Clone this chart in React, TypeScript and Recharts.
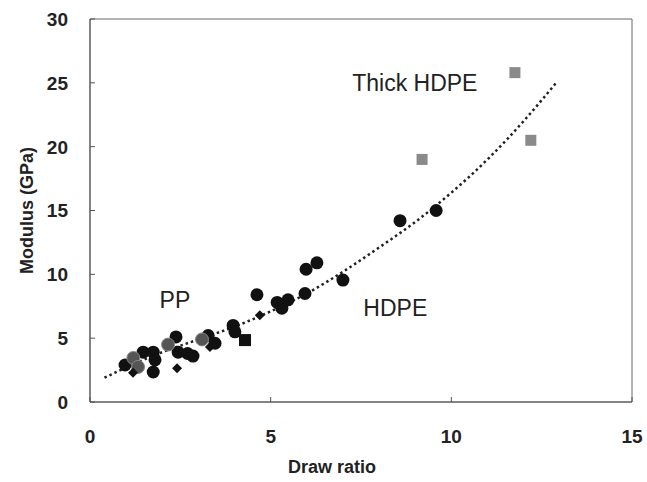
import React from 'react';
import {
  ComposedChart, Scatter, Line, XAxis, YAxis, ReferenceArea, ReferenceDot,
} from 'recharts';

const xTicks = [0, 5, 10, 15];
const yTicks = [0, 5, 10, 15, 20, 25, 30];

const hdpeCircles = [
  { x: 0.97, y: 2.9 }, { x: 1.47, y: 3.9 }, { x: 1.75, y: 3.9 }, { x: 1.8, y: 3.3 },
  { x: 1.75, y: 2.35 }, { x: 2.38, y: 5.1 }, { x: 2.44, y: 3.9 }, { x: 2.7, y: 3.8 },
  { x: 2.85, y: 3.6 }, { x: 3.27, y: 5.2 }, { x: 3.46, y: 4.6 }, { x: 3.96, y: 6.0 },
  { x: 4.01, y: 5.5 }, { x: 4.62, y: 8.4 }, { x: 5.18, y: 7.8 }, { x: 5.31, y: 7.35 },
  { x: 5.48, y: 8.0 }, { x: 5.95, y: 8.5 }, { x: 5.98, y: 10.4 }, { x: 6.28, y: 10.9 },
  { x: 7.0, y: 9.55 }, { x: 8.58, y: 14.2 }, { x: 9.58, y: 15.0 },
];
const ppCircles = [
  { x: 1.2, y: 3.45 }, { x: 1.33, y: 2.75 }, { x: 2.16, y: 4.5 }, { x: 3.1, y: 4.9 },
];
const diamonds = [
  { x: 1.19, y: 2.3 }, { x: 2.41, y: 2.65 }, { x: 3.32, y: 4.3 }, { x: 4.7, y: 6.8 },
];
const blackSquares = [{ x: 4.29, y: 4.85 }];
const thickSquares = [{ x: 9.19, y: 19.0 }, { x: 11.76, y: 25.8 }, { x: 12.2, y: 20.5 }];

const trendX = [0.4, 1, 2, 3, 4, 5, 6, 7, 8, 9, 10, 11, 12, 12.9];
const trendY = [1.9, 2.7, 3.9, 4.9, 5.9, 7.1, 8.5, 10.2, 12.1, 14.1, 16.4, 19.0, 22.0, 25.0];
const trend = trendX.map((x, i) => ({ x, y: trendY[i] }));

const FONT = '"Liberation Sans", Arial, sans-serif';

const CircleShape = (fill: string, stroke?: string) => (p: any) => (
  <circle cx={p.cx} cy={p.cy} r={6.5} fill={fill} stroke={stroke || 'none'} strokeWidth={1} />
);
const DiamondShape = (p: any) => (
  <path d={`M${p.cx},${p.cy - 5} L${p.cx + 5},${p.cy} L${p.cx},${p.cy + 5} L${p.cx - 5},${p.cy} Z`} fill="#111" />
);
const SquareShape = (fill: string, s: number) => (p: any) => (
  <rect x={p.cx - s / 2} y={p.cy - s / 2} width={s} height={s} fill={fill} />
);

const YTick = (p: any) => (
  <g>
    <line x1={p.x + 22} y1={p.y} x2={p.x + 27} y2={p.y} stroke="#555" />
    <text x={p.x} y={p.y} dy="0.36em" textAnchor="end" fontFamily={FONT} fontWeight="bold" fontSize={19} fill="#222">
      {p.payload.value}
    </text>
  </g>
);
const XTick = (p: any) => (
  <g>
    <line x1={p.x} y1={p.y} x2={p.x} y2={p.y - 5} stroke="#555" />
    <text x={p.x} y={p.y + 41} textAnchor="middle" fontFamily={FONT} fontWeight="bold" fontSize={19} fill="#222">
      {p.payload.value}
    </text>
  </g>
);

export default function App() {
  return (
    <div style={{ position: 'absolute', left: 0, top: 0, background: '#fff' }}>
      <ComposedChart width={647} height={482} margin={{ top: 19, right: 15, left: 0, bottom: 0 }}>
        <XAxis
          type="number" dataKey="x" domain={[0, 15]} ticks={xTicks} height={80}
          tickSize={0} tickMargin={0} tick={XTick} stroke="#555" allowDataOverflow
          label={{ value: 'Draw ratio', position: 'insideBottom', offset: 9, dx: -29, fontFamily: FONT, fontWeight: 'bold', fontSize: 18, fill: '#222' }}
        />
        <YAxis
          type="number" dataKey="y" domain={[0, 30]} ticks={yTicks} width={90}
          tickSize={0} tickMargin={22} tick={YTick} stroke="#555" allowDataOverflow
          label={{ value: 'Modulus (GPa)', angle: -90, position: 'insideLeft', offset: 27, style: { textAnchor: 'middle' }, fontFamily: FONT, fontWeight: 'bold', fontSize: 18, fill: '#222' }}
        />
        <ReferenceArea x1={0} x2={15} y1={0} y2={30} fill="none" stroke="#666" strokeWidth={1} />
        <Line
          data={trend} dataKey="y" type="monotone" dot={false} activeDot={false}
          stroke="#222" strokeWidth={2.5} strokeDasharray="2.5 3" isAnimationActive={false}
        />
        <Scatter data={hdpeCircles} shape={CircleShape('#111')} isAnimationActive={false} />
        <Scatter data={ppCircles} shape={CircleShape('#555', '#888')} isAnimationActive={false} />
        <Scatter data={diamonds} shape={DiamondShape} isAnimationActive={false} />
        <Scatter data={blackSquares} shape={SquareShape('#111', 12)} isAnimationActive={false} />
        <Scatter data={thickSquares} shape={SquareShape('#8a8a8a', 11)} isAnimationActive={false} />
        <ReferenceDot x={2.35} y={8.0} r={0} fill="none" stroke="none"
          label={{ value: 'PP', position: 'center', fontFamily: FONT, fontSize: 23, fill: '#222' }} />
        <ReferenceDot x={8.45} y={7.4} r={0} fill="none" stroke="none"
          label={{ value: 'HDPE', position: 'center', fontFamily: FONT, fontSize: 23, fill: '#222' }} />
        <ReferenceDot x={8.99} y={24.98} r={0} fill="none" stroke="none"
          label={{ value: 'Thick HDPE', position: 'center', fontFamily: FONT, fontSize: 23, fill: '#222' }} />
      </ComposedChart>
    </div>
  );
}
